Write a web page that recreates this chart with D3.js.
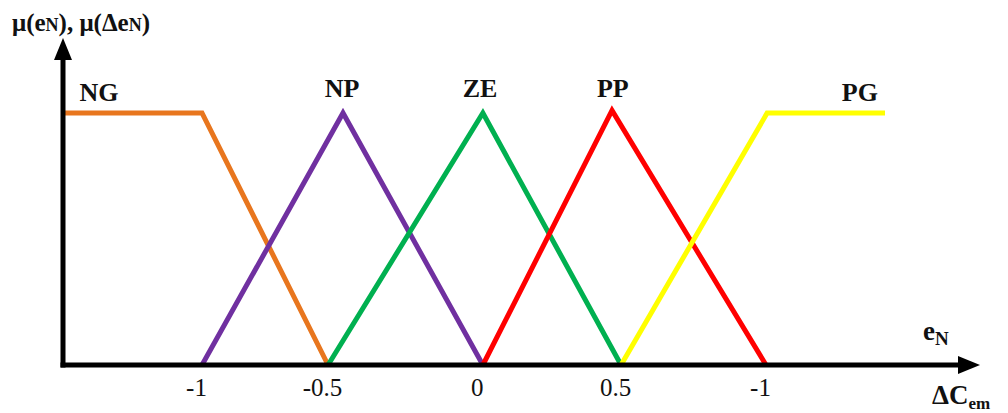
<!DOCTYPE html>
<html><head><meta charset="utf-8">
<script src="https://cdn.jsdelivr.net/npm/d3@7"></script>
<style>
html,body{margin:0;padding:0;background:#fff;}
svg{display:block;}
text{font-family:"Liberation Serif","Times New Roman",serif;fill:#111;}
</style></head>
<body>
<svg id="c" width="1008" height="413"></svg>
<script>
// ---- data ----
const setNames = ["NG", "NP", "ZE", "PP", "PG"];
const ngX = [-1.49, -1, -0.553];   const ngMu = [1, 1, 0];
const npX = [-1, -0.5, -0.004];    const npMu = [0, 1, 0];
const zeX = [-0.553, -0.004, 0.486]; const zeMu = [0, 1, 0];
const ppX = [-0.004, 0.454, 1];    const ppMu = [0, 1.01, 0];
const pgX = [0.486, 1.004, 1.422]; const pgMu = [0, 1, 1];
const tickValues = [-1, -0.553, -0.004, 0.486, 1];
const tickLabels = ["-1", "-0.5", "0", "0.5", "-1"];
const labelX = [-1.365, -0.503, -0.014, 0.457, 1.333];
const labelMu = [1.085, 1.1, 1.1, 1.1, 1.085];

// ---- styles ----
const colors = ["#E8761E", "#7030A0", "#00B050", "#FF0000", "#FFFF00"];

const svg = d3.select("#c");
const x = d3.scaleLinear().domain([-1, 1]).range([202, 766]);
const y = d3.scaleLinear().domain([0, 1]).range([365, 113]);

const x0 = 63, yBase = 365;
const xEnd = 980, yTop = 38;

// curves
const series = [[ngX, ngMu], [npX, npMu], [zeX, zeMu], [ppX, ppMu], [pgX, pgMu]];
const line = d3.line().x(d => x(d[0])).y(d => y(d[1]));
series.forEach((s, i) => {
  const pts = s[0].map((v, j) => [v, s[1][j]]);
  svg.append("path").attr("d", line(pts))
    .attr("fill", "none").attr("stroke", colors[i])
    .attr("stroke-width", 5).attr("stroke-linejoin", "miter");
});

// axes lines
svg.append("line").attr("x1", x0).attr("y1", yBase + 2.5).attr("x2", x0).attr("y2", yTop + 18)
  .attr("stroke", "#000").attr("stroke-width", 5);
svg.append("line").attr("x1", x0 - 2.5).attr("y1", yBase).attr("x2", xEnd - 18).attr("y2", yBase)
  .attr("stroke", "#000").attr("stroke-width", 5);
// arrowheads
svg.append("path").attr("d", `M${x0 - 9},${yTop + 22} L${x0},${yTop} L${x0 + 9},${yTop + 22} Z`).attr("fill", "#000");
svg.append("path").attr("d", `M${xEnd - 22},${yBase - 9} L${xEnd},${yBase} L${xEnd - 22},${yBase + 9} Z`).attr("fill", "#000");

// tick labels via axis
const ax = d3.axisBottom(x).tickValues(tickValues)
  .tickFormat((d, i) => tickLabels[i]).tickSize(0).tickPadding(0);
const g = svg.append("g").attr("transform", `translate(0,${yBase})`).call(ax);
g.select(".domain").remove();
g.selectAll("text").attr("font-family", "Liberation Serif, serif").attr("font-size", 25)
  .attr("fill", "#111").attr("dy", "0").attr("y", 31).attr("dx", -6);

// set labels
setNames.forEach((n, i) => {
  svg.append("text").attr("x", x(labelX[i])).attr("y", y(labelMu[i]) + 9)
    .attr("text-anchor", "middle").attr("font-weight", "bold").attr("font-size", 26).text(n);
});

// y-axis label
const yl = svg.append("text").attr("x", 12).attr("y", 31).attr("font-weight", "bold").attr("font-size", 25);
yl.append("tspan").text("μ(e");
yl.append("tspan").attr("font-size", 18).text("N");
yl.append("tspan").text("), μ(Δe");
yl.append("tspan").attr("font-size", 18).text("N");
yl.append("tspan").text(")");

// x-axis labels
const xl = svg.append("text").attr("x", 923).attr("y", 340).attr("font-weight", "bold").attr("font-size", 27);
xl.append("tspan").text("e");
xl.append("tspan").attr("font-size", 19).attr("dy", 5).text("N");

const xl2 = svg.append("text").attr("x", 932).attr("y", 404).attr("font-weight", "bold").attr("font-size", 27);
xl2.append("tspan").text("ΔC");
xl2.append("tspan").attr("font-size", 17).attr("dy", 5).text("em");
</script>
</body></html>
